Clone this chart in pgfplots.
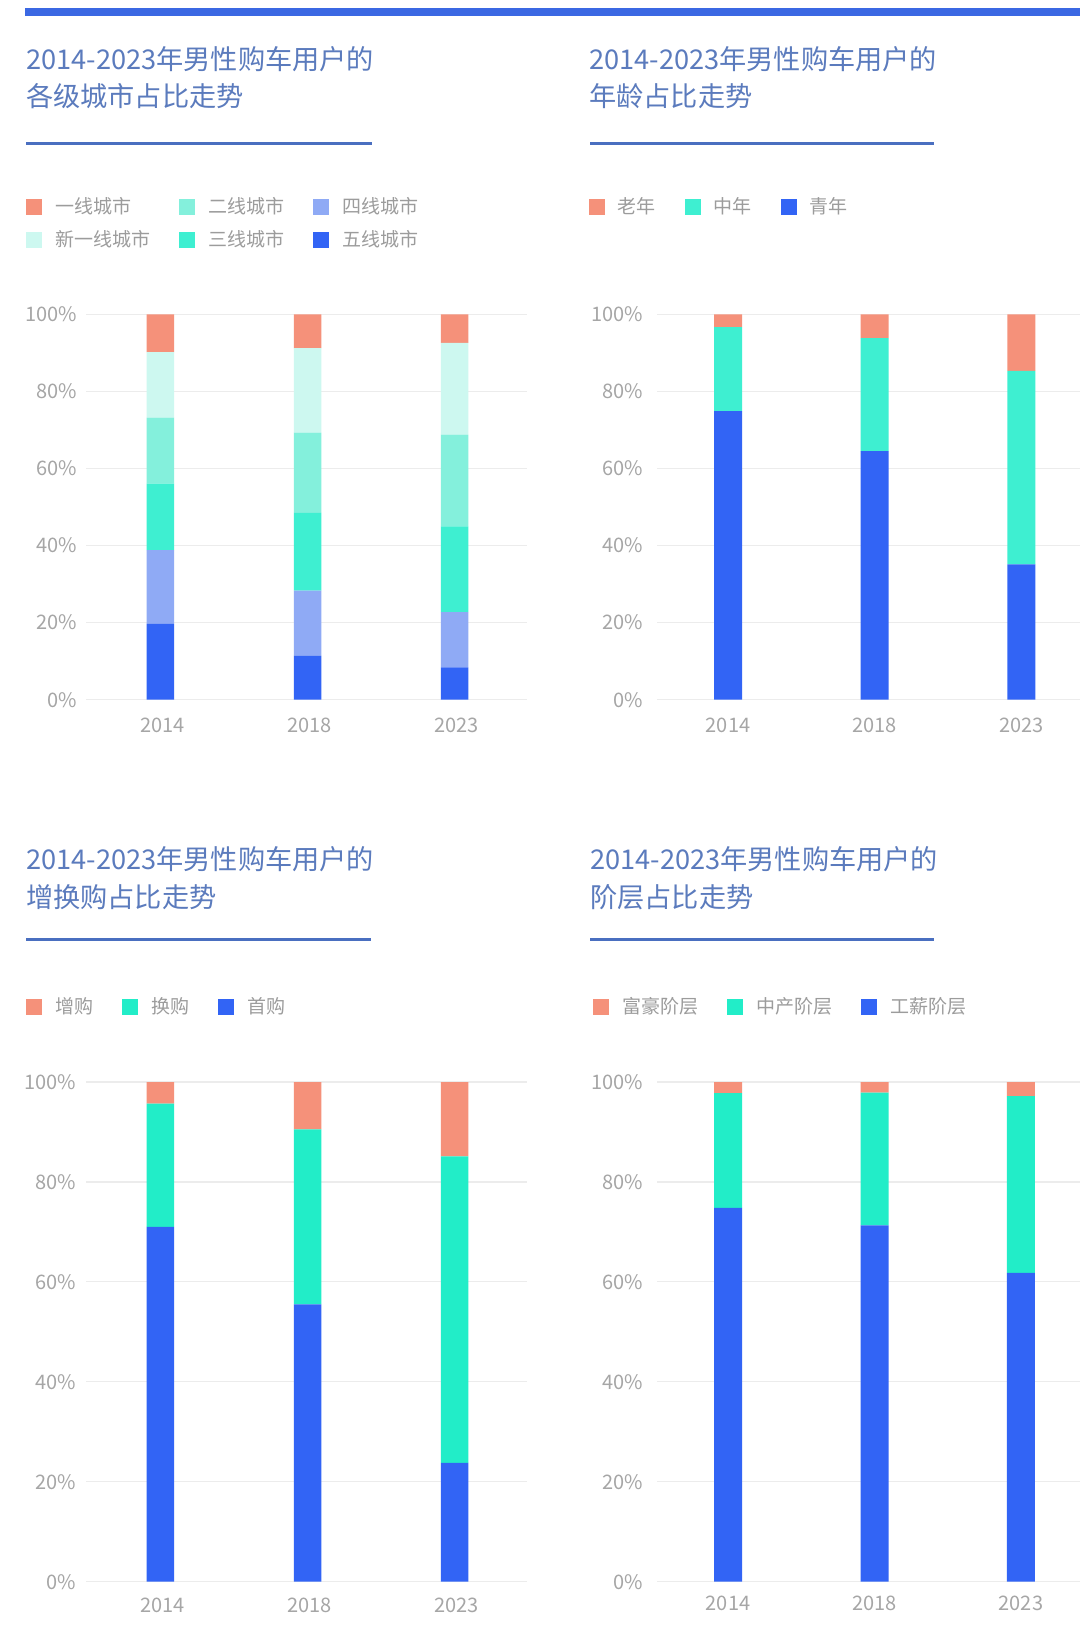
\documentclass[border=0pt]{standalone}
\usepackage{pgfplots}
\pgfplotsset{compat=1.18}
\usepackage{fontspec}
\setmainfont{Noto Sans CJK SC}
\definecolor{cSal}{HTML}{F5917A}
\definecolor{cNew}{HTML}{CDF8F0}
\definecolor{cSec}{HTML}{84F0DC}
\definecolor{cThi}{HTML}{3EEFD1}
\definecolor{cFou}{HTML}{8FAAF5}
\definecolor{cBlu}{HTML}{3264F5}
\definecolor{cTeal}{HTML}{22EDC8}
\definecolor{cTitle}{HTML}{5B7BBD}
\definecolor{cRule}{HTML}{4A6FC0}
\definecolor{cTop}{HTML}{3B68E3}
\definecolor{cTick}{HTML}{A6A6A6}
\definecolor{cLeg}{HTML}{9C9C9C}
\definecolor{cGrid}{HTML}{ECECEC}

\pgfplotsset{
  panel/.style={
    scale only axis,
    ybar stacked,
    ymin=0, ymax=100,
    ytick={0,20,40,60,80,100},
    yticklabels={0\%,20\%,40\%,60\%,80\%,100\%},
    xtick={0,1,2},
    xticklabels={2014,2018,2023},
    axis line style={draw=none},
    major tick length=0pt,
    ymajorgrids,
    grid style={cGrid, line width=1.2pt},
    tick label style={font=\fontsize{20}{24}\selectfont, text=cTick},
    yticklabel style={anchor=east, inner sep=0pt},
    xticklabel style={anchor=north, inner sep=0pt},
    legend style={draw=none, fill=none, inner sep=0pt, anchor=north west,
      font=\fontsize{19}{22}\selectfont, text=cLeg,
      nodes={inner sep=0pt, text height=14.8pt, text depth=1.2pt},
      /tikz/every odd column/.append style={column sep=13pt},
      /tikz/every even column/.append style={column sep=29pt},
      row sep=17.5pt},
    legend cell align=left,
    legend image code/.code={\fill[##1] (0pt,-8pt) rectangle (16pt,8pt);},
  }
}

\begin{document}
\begin{tikzpicture}
\useasboundingbox (0pt,0pt) rectangle (1080pt,-1642pt);
\fill[white] (0pt,0pt) rectangle (1080pt,-1642pt);
% top bar
\fill[cTop] (25pt,-8.4pt) rectangle (1080pt,-15.8pt);

% titles
\begin{scope}[every node/.style={anchor=base west, inner sep=0pt, font=\fontsize{27.2}{31}\selectfont, text=cTitle}]
\node at (26pt,-69pt) {2014-2023年男性购车用户的};
\node at (26pt,-106pt) {各级城市占比走势};
\node at (589pt,-69pt) {2014-2023年男性购车用户的};
\node at (589pt,-106pt) {年龄占比走势};
\node at (26pt,-869pt) {2014-2023年男性购车用户的};
\node at (26pt,-907pt) {增换购占比走势};
\node at (590pt,-869pt) {2014-2023年男性购车用户的};
\node at (590pt,-907pt) {阶层占比走势};
\end{scope}
\fill[cRule] (26pt,-141.5pt) rectangle (372pt,-144.5pt);
\fill[cRule] (590pt,-141.5pt) rectangle (934pt,-144.5pt);
\fill[cRule] (26pt,-938pt) rectangle (371pt,-941pt);
\fill[cRule] (590pt,-938pt) rectangle (934pt,-941pt);

% Panel 1: city tiers
\begin{axis}[panel, at={(86pt,-699.7pt)}, anchor=south west,
  width=441pt, height=385.4pt, xmin=-0.505, xmax=2.491, bar width=27.5pt,
  yticklabel style={xshift=-9pt}, xticklabel style={yshift=-18pt, xshift=2pt},
  legend columns=3, legend style={at={(-0.136,1.3007)}}]
\addplot[fill=cBlu, draw=none, forget plot] coordinates {(0,19.7) (1,11.4) (2,8.4)};
\addplot[fill=cFou, draw=none, forget plot] coordinates {(0,19.1) (1,16.9) (2,14.3)};
\addplot[fill=cThi, draw=none, forget plot] coordinates {(0,17.3) (1,20.2) (2,22.3)};
\addplot[fill=cSec, draw=none, forget plot] coordinates {(0,17.1) (1,20.8) (2,23.8)};
\addplot[fill=cNew, draw=none, forget plot] coordinates {(0,17.0) (1,21.9) (2,23.8)};
\addplot[fill=cSal, draw=none, forget plot] coordinates {(0,9.8) (1,8.8) (2,7.4)};
\addlegendimage{fill=cSal, draw=none}\addlegendentry{一线城市}
\addlegendimage{fill=cSec, draw=none}\addlegendentry{二线城市}
\addlegendimage{fill=cFou, draw=none}\addlegendentry{四线城市}
\addlegendimage{fill=cNew, draw=none}\addlegendentry{新一线城市}
\addlegendimage{fill=cThi, draw=none}\addlegendentry{三线城市}
\addlegendimage{fill=cBlu, draw=none}\addlegendentry{五线城市}
\end{axis}

% Panel 2: age
\begin{axis}[panel, at={(657pt,-699.7pt)}, anchor=south west,
  width=423pt, height=385.4pt, xmin=-0.484, xmax=2.399, bar width=28pt,
  yticklabel style={xshift=-14pt}, xticklabel style={yshift=-18pt},
  legend columns=3, legend style={at={(-0.1615,1.3007)}}]
\addplot[fill=cBlu, draw=none, forget plot] coordinates {(0,74.9) (1,64.5) (2,35.1)};
\addplot[fill=cThi, draw=none, forget plot] coordinates {(0,21.8) (1,29.3) (2,50.2)};
\addplot[fill=cSal, draw=none, forget plot] coordinates {(0,3.3) (1,6.2) (2,14.7)};
\addlegendimage{fill=cSal, draw=none}\addlegendentry{老年}
\addlegendimage{fill=cThi, draw=none}\addlegendentry{中年}
\addlegendimage{fill=cBlu, draw=none}\addlegendentry{青年}
\end{axis}

% Panel 3: purchase type
\begin{axis}[panel, at={(86pt,-1581.7pt)}, anchor=south west,
  width=441pt, height=499.7pt, xmin=-0.505, xmax=2.491, bar width=27.5pt,
  yticklabel style={xshift=-10pt}, xticklabel style={yshift=-16pt, xshift=2pt},
  legend columns=3, legend style={at={(-0.136,1.1667)}}]
\addplot[fill=cBlu, draw=none, forget plot] coordinates {(0,71.0) (1,55.5) (2,23.8)};
\addplot[fill=cTeal, draw=none, forget plot] coordinates {(0,24.7) (1,35.0) (2,61.3)};
\addplot[fill=cSal, draw=none, forget plot] coordinates {(0,4.3) (1,9.5) (2,14.9)};
\addlegendimage{fill=cSal, draw=none}\addlegendentry{增购}
\addlegendimage{fill=cTeal, draw=none}\addlegendentry{换购}
\addlegendimage{fill=cBlu, draw=none}\addlegendentry{首购}
\end{axis}

% Panel 4: class
\begin{axis}[panel, at={(657pt,-1581.7pt)}, anchor=south west,
  width=423pt, height=499.7pt, xmin=-0.485, xmax=2.403, bar width=28pt,
  yticklabel style={xshift=-14pt}, xticklabel style={yshift=-14pt},
  legend columns=3, legend style={at={(-0.1515,1.1667)}}]
\addplot[fill=cBlu, draw=none, forget plot] coordinates {(0,74.8) (1,71.3) (2,61.8)};
\addplot[fill=cTeal, draw=none, forget plot] coordinates {(0,23.0) (1,26.6) (2,35.4)};
\addplot[fill=cSal, draw=none, forget plot] coordinates {(0,2.2) (1,2.1) (2,2.8)};
\addlegendimage{fill=cSal, draw=none}\addlegendentry{富豪阶层}
\addlegendimage{fill=cTeal, draw=none}\addlegendentry{中产阶层}
\addlegendimage{fill=cBlu, draw=none}\addlegendentry{工薪阶层}
\end{axis}
\end{tikzpicture}
\end{document}
